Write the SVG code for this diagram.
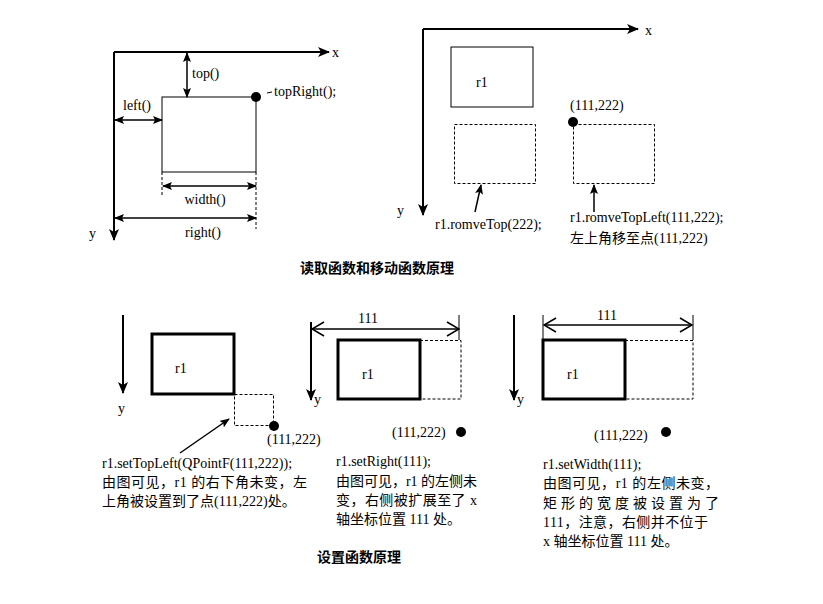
<svg xmlns="http://www.w3.org/2000/svg" width="823" height="604" viewBox="0 0 823 604">
<style>
text{font-family:"Liberation Serif","Noto Sans CJK SC",serif;font-size:14px;fill:#000}
.cjk{font-family:"Liberation Serif","Noto Sans CJK SC",serif;font-size:14px}
.title{font-family:"Noto Sans CJK SC",sans-serif;font-size:14px;font-weight:bold}
.axis{stroke:#000;stroke-width:2;fill:none}
.thin{stroke:#000;stroke-width:1;fill:none}
.thick{stroke:#000;stroke-width:3;fill:none}
.dash{stroke:#000;stroke-width:1;fill:none;stroke-dasharray:3,2}
.dim{stroke:#000;stroke-width:1.5;fill:none}
.dot{fill:#000}
</style>
<defs>
<marker id="ax" markerUnits="userSpaceOnUse" markerWidth="12" markerHeight="10" refX="11" refY="5" orient="auto"><path d="M0,0 L12,5 L0,10 L3,5 z" fill="#000"/></marker>
<marker id="da" markerUnits="userSpaceOnUse" markerWidth="10" markerHeight="8" refX="9" refY="4" orient="auto-start-reverse"><path d="M0,0 L10,4 L0,8 L2,4 z" fill="#000"/></marker>
<marker id="ov" markerUnits="userSpaceOnUse" markerWidth="14" markerHeight="16" refX="13" refY="8" orient="auto-start-reverse"><path d="M1,1 L13,8 L1,15" fill="none" stroke="#000" stroke-width="1.5"/></marker>
</defs>

<!-- Diagram 1 -->
<g id="d1-axes">
<line class="axis" x1="114" y1="52" x2="329" y2="52" marker-end="url(#ax)"/>
<line class="axis" x1="114" y1="52" x2="114" y2="240" marker-end="url(#ax)"/>
<text x="332" y="57">x</text>
<text x="89" y="238">y</text>
</g>
<g id="d1-rect">
<rect class="thin" x="162" y="97" width="94" height="75"/>
<circle class="dot" cx="256" cy="97" r="5"/>
<line class="thin" x1="267" y1="93" x2="272" y2="92"/>
<text x="274" y="96">topRight();</text>
</g>
<g id="connectors">
<line class="dim" x1="187" y1="53" x2="187" y2="97" marker-start="url(#da)" marker-end="url(#da)"/>
<text x="192" y="78">top()</text>
<line class="dim" x1="115" y1="120" x2="162" y2="120" marker-start="url(#da)" marker-end="url(#da)"/>
<text x="123" y="110">left()</text>
<line class="dash" x1="162" y1="172" x2="162" y2="195"/>
<line class="dash" x1="256" y1="172" x2="256" y2="229"/>
<line class="dim" x1="163" y1="186" x2="256" y2="186" marker-start="url(#da)" marker-end="url(#da)"/>
<text x="205" y="204" text-anchor="middle">width()</text>
<line class="dim" x1="115" y1="218" x2="256" y2="218" marker-start="url(#da)" marker-end="url(#da)"/>
<text x="203" y="237" text-anchor="middle">right()</text>
</g>

<!-- Diagram 2 -->
<g id="d2-axes">
<line class="axis" x1="423" y1="29" x2="638" y2="29" marker-end="url(#ax)"/>
<line class="axis" x1="423" y1="29" x2="423" y2="215" marker-end="url(#ax)"/>
<text x="645" y="35">x</text>
<text x="397" y="215">y</text>
</g>
<g id="d2-r1">
<rect class="thin" x="451" y="47" width="82" height="60"/>
<text x="476" y="87">r1</text>
</g>
<g id="d2-moveTop">
<rect class="dash" x="454.5" y="124.5" width="81" height="59"/>
<line class="dim" x1="475" y1="212" x2="481" y2="185" marker-end="url(#da)"/>
<text x="435" y="229">r1.romveTop(222);</text>
</g>
<g id="d2-moveTopLeft">
<rect class="dash" x="573.5" y="124.5" width="81" height="59"/>
<circle class="dot" cx="573" cy="122" r="5"/>
<text x="570" y="110">(111,222)</text>
<line class="dim" x1="594" y1="212" x2="594" y2="185" marker-end="url(#da)"/>
<text x="570" y="222">r1.romveTopLeft(111,222);</text>
<text class="cjk" x="570" y="243">左上角移至点(111,222)</text>
</g>
<g id="title1"><text class="title" x="300" y="273">读取函数和移动函数原理</text></g>

<!-- Diagram 3 -->
<g id="d3-axis">
<line class="axis" x1="123" y1="315" x2="123" y2="393" marker-end="url(#ax)"/>
<text x="118" y="413">y</text>
</g>
<g id="d3-r1">
<rect class="thick" x="152" y="334" width="82" height="60"/>
<text x="175" y="373">r1</text>
<rect class="dash" x="234.5" y="394.5" width="39" height="31"/>
<circle class="dot" cx="274" cy="426" r="5"/>
<text x="267" y="444">(111,222)</text>
<line class="dim" x1="180" y1="453" x2="229" y2="419" marker-end="url(#da)"/>
<text x="102" y="468">r1.setTopLeft(QPointF(111,222));</text>
<text class="cjk" x="102" y="487" textLength="205" lengthAdjust="spacing">由图可见，r1 的右下角未变，左</text>
<text class="cjk" x="102" y="506">上角被设置到了点(111,222)处。</text>
</g>

<!-- Diagram 4 -->
<g id="d4-axis">
<line class="axis" x1="311" y1="322" x2="311" y2="400" marker-end="url(#ax)"/>
<text x="314" y="404">y</text>
</g>
<g id="d4-r1">
<line class="thin" x1="459" y1="315" x2="459" y2="340"/>
<line class="dim" x1="312" y1="329" x2="459" y2="329" marker-start="url(#ov)" marker-end="url(#ov)"/>
<text x="368" y="323" text-anchor="middle">111</text>
<rect class="dash" x="420" y="340.5" width="41" height="58.5"/>
<rect class="thick" x="338" y="340" width="82" height="59"/>
<text x="362" y="379">r1</text>
<text x="392" y="437">(111,222)</text>
<circle class="dot" cx="461" cy="432" r="5"/>
<text x="336" y="466">r1.setRight(111);</text>
<text class="cjk" x="336" y="486" textLength="141" lengthAdjust="spacing">由图可见，r1 的左侧未</text>
<text class="cjk" x="336" y="505" textLength="141" lengthAdjust="spacing">变，右侧被扩展至了 x</text>
<text class="cjk" x="336" y="524">轴坐标位置 111 处。</text>
</g>

<!-- Diagram 5 -->
<g id="d5-axis">
<line class="axis" x1="514" y1="315" x2="514" y2="400" marker-end="url(#ax)"/>
<text x="517" y="404">y</text>
</g>
<g id="d5-r1">
<line class="thin" x1="543" y1="315" x2="543" y2="340"/>
<line class="thin" x1="693" y1="315" x2="693" y2="340"/>
<line class="dim" x1="544" y1="325" x2="692" y2="325" marker-start="url(#ov)" marker-end="url(#ov)"/>
<text x="607" y="320" text-anchor="middle">111</text>
<rect class="dash" x="625" y="340.5" width="68" height="58.5"/>
<rect class="thick" x="543" y="340" width="82" height="59"/>
<text x="567" y="379">r1</text>
<text x="594" y="440">(111,222)</text>
<circle class="dot" cx="666" cy="432" r="5"/>
<text x="543" y="469">r1.setWidth(111);</text>
<text class="cjk" x="543" y="488" textLength="176" lengthAdjust="spacing">由图可见，r1 的左侧未变，</text>
<text class="cjk" x="543" y="508" textLength="176" lengthAdjust="spacing">矩形的宽度被设置为了</text>
<text class="cjk" x="543" y="527" textLength="165" lengthAdjust="spacing">111，注意，右侧并不位于</text>
<text class="cjk" x="543" y="546">x 轴坐标位置 111 处。</text>
</g>
<g id="title2"><text class="title" x="317" y="562">设置函数原理</text></g>
</svg>
